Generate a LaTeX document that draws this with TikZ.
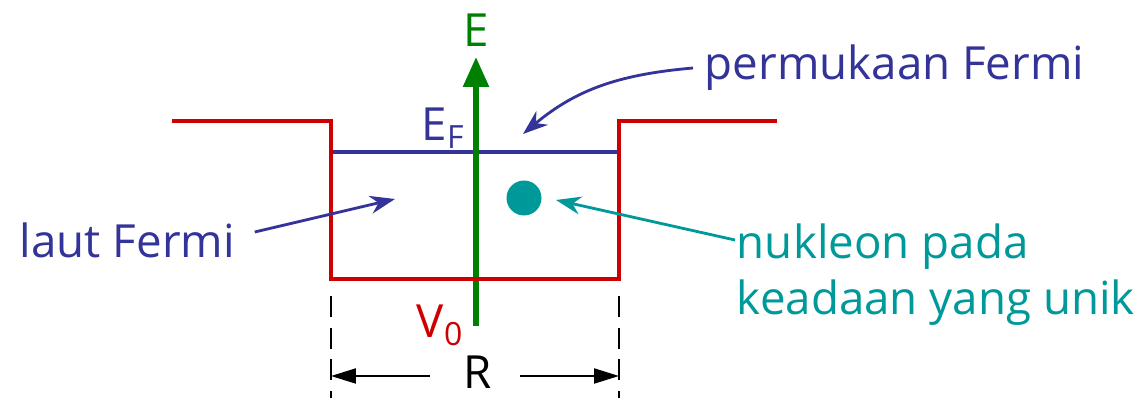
\documentclass[tikz,border=0pt]{standalone}
\usepackage{fontspec}
\setmainfont{Open Sans}
\usetikzlibrary{arrows.meta, positioning}
\definecolor{cred}{HTML}{CC0000}
\definecolor{cblue}{HTML}{333399}
\definecolor{cgreen}{HTML}{008000}
\definecolor{cteal}{HTML}{009999}
\tikzset{
  every picture/.style={line width=2.2pt},
  lbl/.style={font=\fontsize{26}{32}\selectfont, inner sep=0pt},
  pointer/.style={-{Stealth[length=5mm, width=3.6mm]}, line width=1.6pt},
  dimline/.style={{Triangle[length=5mm, width=3mm]}-, line width=1.2pt, draw=black},
}

\begin{document}
\begin{tikzpicture}[x=0.02cm, y=-0.02cm,
  well/.style={draw=cred, line width=2.8pt},
  level/.style={draw=cblue, line width=2.8pt},
  axis/.style={draw=cgreen, line width=3.2pt, -{Triangle[length=6mm, width=5mm]}}]
  \useasboundingbox (0,0) rectangle (1140,398);
  % Fermi level and energy axis
  \draw[level] (331,152) -- (619,152);
  \draw[axis] (476,326) -- (476,57);
  \draw[well] (172,121) -- (331,121) -- (331,279) -- (619,279) -- (619,121) -- (777,121);
  \node[lbl, text=cgreen] (E) at (476,30) {E};
  \node[lbl, text=cblue] (EF) at (443,128) {E\textsubscript{F}};
  \node[lbl, text=cred] (V0) at (440,325) {V\textsubscript{0}};
  % nucleon
  \node[circle, fill=cteal, minimum size=0.7cm, inner sep=0pt] (dot) at (524,198) {};
  % width R
  \draw[dashed, line width=1.2pt, dash pattern=on 12pt off 6pt] (331,296) -- (331,398);
  \draw[dashed, line width=1.2pt, dash pattern=on 12pt off 6pt] (619,296) -- (619,398);
  \node[lbl] (R) at (478,372) {R};
  \coordinate (Rl) at (331,376);
  \coordinate (Rr) at (619,376);
  \draw[dimline] (Rl) -- (430,376);
  \draw[dimline] (Rr) -- (520,376);
  % labels
  \node[lbl, text=cblue, anchor=west] (sea) at (18,240) {laut Fermi};
  \node[lbl, text=cblue, anchor=west] (surf) at (703,68) {permukaan Fermi};
  \node[lbl, text=cteal, anchor=north west, align=left] (nuk) at (735,222) {nukleon pada\\keadaan yang unik};
  \coordinate (seaT) at (395,199);
  \coordinate (surfT) at (523,134);
  \coordinate (nukS) at (735,240);
  \coordinate (nukT) at (556,200);
  \draw[pointer, draw=cblue] ([shift={(18,-8)}]sea.east) -- (seaT);
  \draw[pointer, draw=cblue] ([xshift=-0.2cm]surf.west) to[out=185, in=40] (surfT);
  \draw[pointer, draw=cteal] (nukS) -- (nukT);
\end{tikzpicture}
\end{document}
